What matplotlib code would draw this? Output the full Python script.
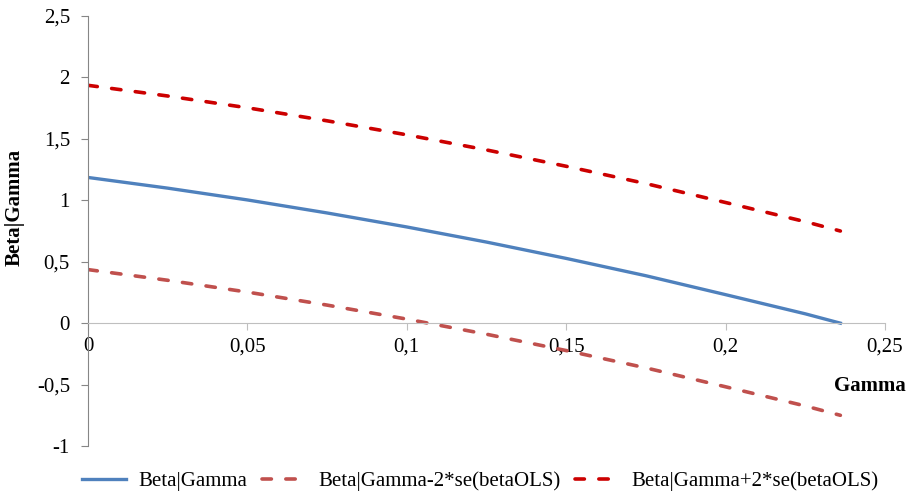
import matplotlib.pyplot as plt
import numpy as np
plt.rcParams.update({"font.family": "serif", "font.serif": ["Liberation Serif", "DejaVu Serif"], "font.size": 15})

gamma = [0, 0.025, 0.05, 0.075, 0.1, 0.125, 0.15, 0.175, 0.2, 0.225, 0.236]
beta = [1.186, 1.099, 1.003, 0.897, 0.783, 0.660, 0.527, 0.386, 0.232, 0.076, 0.0]
beta_lo = [0.436, 0.349, 0.253, 0.147, 0.033, -0.090, -0.223, -0.364, -0.518, -0.674, -0.750]
beta_hi = [1.936, 1.849, 1.753, 1.647, 1.533, 1.410, 1.277, 1.136, 0.982, 0.826, 0.750]

xticks = [0, 0.05, 0.1, 0.15, 0.2, 0.25]
yticks = [-1, -0.5, 0, 0.5, 1, 1.5, 2, 2.5]

def comma(v):
    return ('%g' % v).replace('.', ',')

fig = plt.figure(figsize=(9.09, 4.93), dpi=100)
ax = fig.add_axes([0.0968, 0.0953, 0.8768, 0.8722])

ax.plot(gamma, beta, color='#4F81BD', lw=2.4, label='Beta|Gamma')
ax.plot(gamma, beta_lo, color='#C0504D', lw=2.6, dashes=(2.6, 4.0), dash_capstyle='round',
        label='Beta|Gamma-2*se(betaOLS)')
ax.plot(gamma, beta_hi, color='#CC0000', lw=2.6, dashes=(2.6, 4.0), dash_capstyle='round',
        label='Beta|Gamma+2*se(betaOLS)')

ax.set_xlim(0, 0.25)
ax.set_ylim(-1, 2.5)
ax.set_xticks(xticks)
ax.set_yticks(yticks)
ax.set_xticklabels([comma(v) for v in xticks])
ax.set_yticklabels([comma(v) for v in yticks])

for s in ['top', 'right']:
    ax.spines[s].set_visible(False)
ax.spines['bottom'].set_position(('data', 0))
ax.spines['left'].set_color('#868686')
ax.spines['bottom'].set_color('#BFBFBF')
ax.tick_params(axis='y', direction='out', length=5, color='#868686', pad=8)
ax.tick_params(axis='x', direction='out', length=5, color='#BFBFBF', pad=5)

ax.set_ylabel('Beta|Gamma', fontweight='bold')
ax.yaxis.set_label_coords(-0.079, 0.555)
ax.set_xlabel('Gamma', fontweight='bold')
ax.xaxis.set_label_coords(0.981, 0.163)

fig.legend(loc='center left', bbox_to_anchor=(0.0902, 0.024), ncol=3, frameon=False,
           borderpad=0, borderaxespad=0, handlelength=2.1, columnspacing=0.7,
           handletextpad=0.6, fontsize=15)

plt.savefig('out.png', dpi=100)
